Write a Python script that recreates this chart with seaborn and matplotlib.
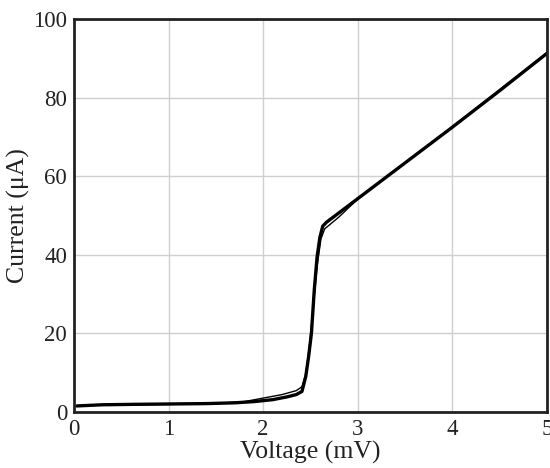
import numpy as np
import pandas as pd
import matplotlib
matplotlib.use("Agg")
import matplotlib.pyplot as plt
import seaborn as sns

# Sweep A (main trace)
voltage_a = [0.03, 0.3, 0.6, 1.0, 1.4, 1.7, 1.9, 2.1, 2.25, 2.35, 2.41, 2.45, 2.48,
             2.51, 2.54, 2.57, 2.60, 2.63, 2.67, 3.0, 3.5, 4.0, 4.5, 5.0]
current_a = [1.5, 1.8, 1.9, 2.0, 2.1, 2.3, 2.6, 3.1, 3.8, 4.4, 5.2, 9.0, 14.0,
             20.0, 31.0, 39.5, 44.5, 47.3, 48.3, 54.3, 63.4, 72.5, 81.8, 91.3]

# Sweep B (second, thinner trace)
voltage_b = [0.05, 0.5, 1.0, 1.5, 1.8, 2.0, 2.2, 2.35, 2.41, 2.45, 2.49, 2.53,
             2.57, 2.61, 2.65, 2.70, 2.80, 2.90, 3.0, 4.0, 5.0]
current_b = [1.6, 1.8, 1.9, 2.1, 2.6, 3.5, 4.4, 5.4, 6.4, 9.5, 17.0, 27.0,
             37.0, 44.0, 46.6, 47.6, 49.6, 51.9, 54.2, 72.6, 91.5]

x_ticks = [0, 1, 2, 3, 4, 5]
y_ticks = [0, 20, 40, 60, 80, 100]

sns.set_theme(style="white")
plt.rcParams['font.family'] = ['Liberation Serif', 'DejaVu Serif']

fig = plt.figure(figsize=(5.5, 4.68), dpi=100)
ax = fig.add_axes([0.1345, 0.120, 0.860, 0.839])

df_a = pd.DataFrame({"V": voltage_a, "I": current_a})
df_b = pd.DataFrame({"V": voltage_b, "I": current_b})
sns.lineplot(data=df_b, x="V", y="I", ax=ax, sort=False, estimator=None,
             color="black", linewidth=1.0)
sns.lineplot(data=df_a, x="V", y="I", ax=ax, sort=False, estimator=None,
             color="black", linewidth=2.4)

ax.set_xlim(0, 5)
ax.set_ylim(0, 100)
ax.set_xticks(x_ticks)
ax.set_yticks(y_ticks)
ax.set_xticklabels([str(t) for t in x_ticks])
ax.set_yticklabels([str(t) for t in y_ticks])
ax.grid(True, color="#cfcfcf", linewidth=1.0)
ax.set_axisbelow(True)
for s in ax.spines.values():
    s.set_color("#222222")
    s.set_linewidth(2.0)
ax.tick_params(axis="both", length=0, labelsize=16.5, colors="#222222", pad=5)
ax.set_xlabel("Voltage (mV)", fontsize=18.5, color="#222222", labelpad=1)
ax.set_ylabel("Current (μA)", fontsize=18.5, color="#222222", labelpad=2)

fig.savefig("out.png", dpi=100)
